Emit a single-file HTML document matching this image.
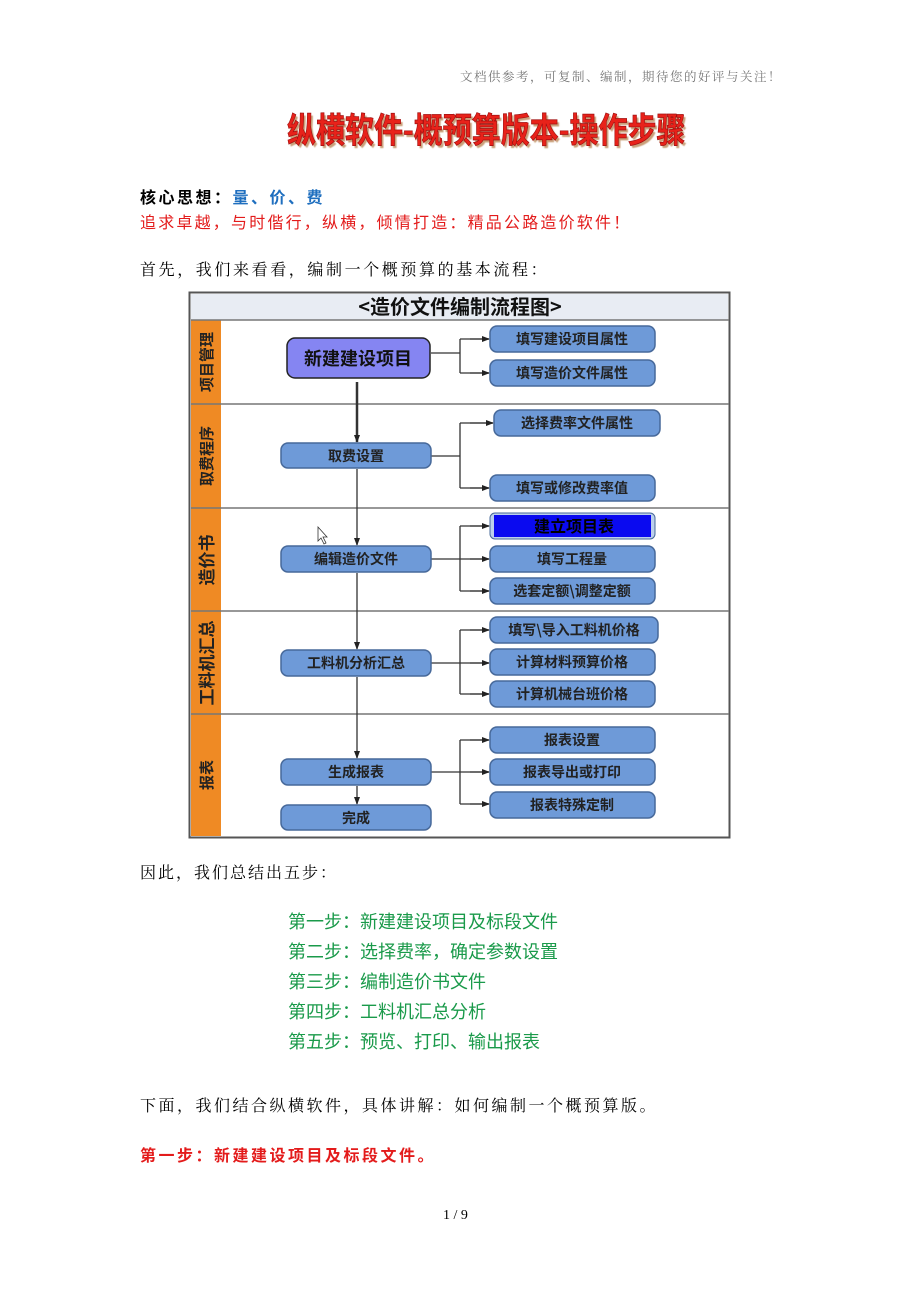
<!DOCTYPE html>
<html><head><meta charset="utf-8"><style>
body{margin:0;background:#fff;}
#p{position:relative;width:920px;height:1302px;overflow:hidden;font-family:"Noto Sans CJK SC","Liberation Sans",sans-serif;}
.t{position:absolute;white-space:nowrap;font-size:16px;line-height:20px;}
.s{font-family:"Noto Serif CJK SC","Liberation Serif",serif;}
</style></head><body><div id="p">
<div class="t s" style="left:460px;top:66px;font-size:12.5px;color:#777;letter-spacing:1.5px;">文档供参考，可复制、编制，期待您的好评与关注！</div>
<div class="t" style="left:287px;top:104px;font-size:29px;line-height:40px;font-weight:bold;color:#e8221a;transform:scaleY(1.2);transform-origin:left top;-webkit-text-stroke:0.6px #a01010;text-shadow:2px 2px 1px #c9a07a;">纵横软件-概预算版本-操作步骤</div>
<div class="t" style="left:140px;top:186px;font-weight:bold;letter-spacing:2.5px;">核心思想：<span style="color:#1f6fbf">量、价、费</span></div>
<div class="t" style="left:140px;top:211px;color:#e31b1b;letter-spacing:2.2px;">追求卓越，与时偕行，纵横，倾情打造：精品公路造价软件！</div>
<div class="t s" style="left:140px;top:259px;letter-spacing:2.6px;">首先，我们来看看，编制一个概预算的基本流程：</div>

<svg style="position:absolute;left:0;top:0" width="920" height="1302" font-family="Noto Sans CJK SC, Liberation Sans, sans-serif">
<defs><marker id="a" markerWidth="8" markerHeight="8" refX="7" refY="4" orient="auto" markerUnits="userSpaceOnUse"><path d="M0,1 L8,4 L0,7 Z" fill="#222"/></marker></defs>
<rect x="189.5" y="292.5" width="540" height="545" fill="#fff" stroke="#555" stroke-width="2"/>
<rect x="191" y="294" width="537" height="26" fill="#e8ecf3"/>
<text x="460" y="314" font-size="20" font-weight="bold" text-anchor="middle" fill="#111">&lt;造价文件编制流程图&gt;</text>
<rect x="191" y="320" width="30" height="516" fill="#ef8a24"/>
<g stroke="#777" stroke-width="1.5">
<line x1="191" y1="320" x2="729" y2="320"/><line x1="191" y1="404" x2="729" y2="404"/><line x1="191" y1="508" x2="729" y2="508"/><line x1="191" y1="611" x2="729" y2="611"/><line x1="191" y1="714" x2="729" y2="714"/>
</g>
<g font-size="15" font-weight="bold" fill="#222" text-anchor="middle">
<text transform="translate(212,362) rotate(-90)">项目管理</text>
<text transform="translate(212,456) rotate(-90)">取费程序</text>
<text transform="translate(213,560) rotate(-90)" font-size="17">造价书</text>
<text transform="translate(213,663) rotate(-90)" font-size="17">工料机汇总</text>
<text transform="translate(212,775) rotate(-90)">报表</text>
</g>
<g stroke="#333" stroke-width="1.3" fill="none">
<line x1="357" y1="382" x2="357" y2="442" stroke-width="2.5" marker-end="url(#a)"/>
<line x1="357" y1="469" x2="357" y2="545" marker-end="url(#a)"/>
<line x1="357" y1="573" x2="357" y2="649" marker-end="url(#a)"/>
<line x1="357" y1="677" x2="357" y2="758" marker-end="url(#a)"/>
<line x1="357" y1="786" x2="357" y2="804" marker-end="url(#a)"/>
<path d="M431,353 H460 M460,339 V373 M460,339 H489 M460,373 H489"/>
<path d="M431,456 H460 M460,423 V488 M460,423 H493 M460,488 H489"/>
<path d="M431,559 H460 M460,526 V591 M460,526 H489 M460,559 H489 M460,591 H489"/>
<path d="M431,663 H460 M460,630 V694 M460,630 H489 M460,663 H489 M460,694 H489"/>
<path d="M431,772 H460 M460,740 V804 M460,740 H489 M460,772 H489 M460,804 H489"/>
</g>
<g marker-end="url(#a)" stroke="#333" stroke-width="1.3">
<line x1="470" y1="339" x2="489" y2="339"/><line x1="470" y1="373" x2="489" y2="373"/>
<line x1="470" y1="423" x2="493" y2="423"/><line x1="470" y1="488" x2="489" y2="488"/>
<line x1="470" y1="526" x2="489" y2="526"/><line x1="470" y1="559" x2="489" y2="559"/><line x1="470" y1="591" x2="489" y2="591"/>
<line x1="470" y1="630" x2="489" y2="630"/><line x1="470" y1="663" x2="489" y2="663"/><line x1="470" y1="694" x2="489" y2="694"/>
<line x1="470" y1="740" x2="489" y2="740"/><line x1="470" y1="772" x2="489" y2="772"/><line x1="470" y1="804" x2="489" y2="804"/>
</g>
<rect x="287" y="338" width="143" height="40" rx="8" fill="#8585f2" stroke="#222" stroke-width="1.5"/>
<text x="358" y="365" font-size="18" font-weight="bold" text-anchor="middle" fill="#111">新建建设项目</text>
<g fill="#6e9ad8" stroke="#47699a" stroke-width="1.5">
<rect x="490" y="326" width="165" height="26" rx="7"/><rect x="490" y="360" width="165" height="26" rx="7"/>
<rect x="281" y="443" width="150" height="25" rx="7"/>
<rect x="494" y="410" width="166" height="26" rx="7"/><rect x="490" y="475" width="165" height="26" rx="7"/>
<rect x="281" y="546" width="150" height="26" rx="7"/>
<rect x="490" y="546" width="165" height="26" rx="7"/><rect x="490" y="578" width="165" height="26" rx="7"/>
<rect x="281" y="650" width="150" height="26" rx="7"/>
<rect x="490" y="617" width="168" height="26" rx="7"/><rect x="490" y="649" width="165" height="26" rx="7"/><rect x="490" y="681" width="165" height="26" rx="7"/>
<rect x="281" y="759" width="150" height="26" rx="7"/><rect x="281" y="805" width="150" height="25" rx="7"/>
<rect x="490" y="727" width="165" height="26" rx="7"/><rect x="490" y="759" width="165" height="26" rx="7"/><rect x="490" y="792" width="165" height="26" rx="7"/>
</g>
<rect x="490" y="513" width="165" height="26" rx="5" fill="#bcd0ec" stroke="#47699a"/>
<rect x="494" y="515" width="157" height="22" fill="#0a0af0"/>
<g font-size="14" font-weight="bold" fill="#222" text-anchor="middle">
<text x="572" y="344">填写建设项目属性</text><text x="572" y="378">填写造价文件属性</text>
<text x="356" y="461">取费设置</text>
<text x="577" y="428">选择费率文件属性</text><text x="572" y="493">填写或修改费率值</text>
<text x="574" y="532" font-size="16" fill="#000">建立项目表</text>
<text x="356" y="564">编辑造价文件</text>
<text x="572" y="564">填写工程量</text><text x="572" y="596">选套定额\调整定额</text>
<text x="356" y="668">工料机分析汇总</text>
<text x="574" y="635">填写\导入工料机价格</text><text x="572" y="667">计算材料预算价格</text><text x="572" y="699">计算机械台班价格</text>
<text x="356" y="777">生成报表</text><text x="356" y="823">完成</text>
<text x="572" y="745">报表设置</text><text x="572" y="777">报表导出或打印</text><text x="572" y="810">报表特殊定制</text>
</g>
<path d="M318,527 v14 l3,-3 l3,6 l2,-1 l-3,-6 h4 z" fill="#fff" stroke="#333" stroke-width="0.8"/>
</svg>

<div class="t s" style="left:140px;top:862px;letter-spacing:2px;">因此，我们总结出五步：</div>
<div class="t" style="left:288px;top:910px;font-size:18px;line-height:22px;color:#1a9a4a;">第一步：新建建设项目及标段文件</div>
<div class="t" style="left:288px;top:940px;font-size:18px;line-height:22px;color:#1a9a4a;">第二步：选择费率，确定参数设置</div>
<div class="t" style="left:288px;top:970px;font-size:18px;line-height:22px;color:#1a9a4a;">第三步：编制造价书文件</div>
<div class="t" style="left:288px;top:1000px;font-size:18px;line-height:22px;color:#1a9a4a;">第四步：工料机汇总分析</div>
<div class="t" style="left:288px;top:1030px;font-size:18px;line-height:22px;color:#1a9a4a;">第五步：预览、打印、输出报表</div>
<div class="t s" style="left:140px;top:1095px;letter-spacing:2.5px;">下面，我们结合纵横软件，具体讲解：如何编制一个概预算版。</div>
<div class="t" style="left:140px;top:1144px;color:#e31b1b;font-weight:bold;letter-spacing:2.5px;">第一步：新建建设项目及标段文件。</div>
<div class="t" style="left:443px;top:1206px;font-size:14px;font-family:'Liberation Serif',serif;">1 / 9</div>
</div></body></html>
